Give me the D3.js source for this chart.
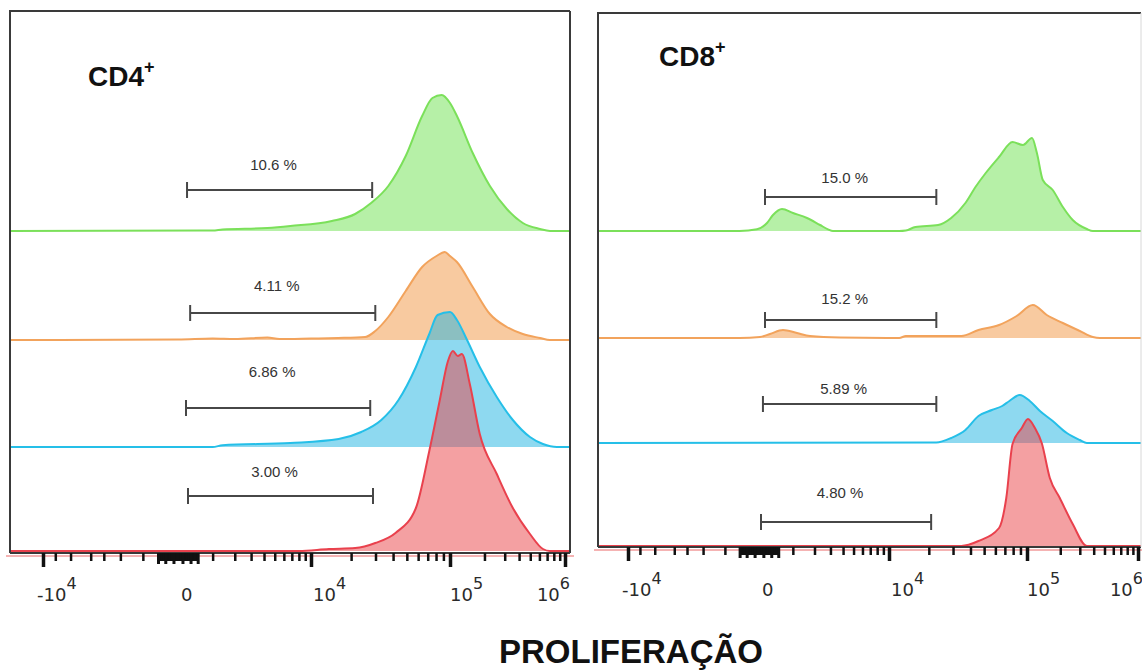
<!DOCTYPE html>
<html>
<head>
<meta charset="utf-8">
<script src="https://cdn.jsdelivr.net/npm/d3@7"></script>
<style>
  body { margin: 0; background: #fff; }
  svg { display: block; }
</style>
</head>
<body>
<svg id="chart" width="1142" height="670"></svg>
<script>
// Proliferation histograms (offset overlay), CD4+ and CD8+
// x = fluorescence intensity, y = relative event count

const cd4Green = [[-30000,0],[1000,0.5],[1400,1.5],[4300,3],[6800,5],[14400,10],[21400,17],[27900,28],[37000,45],[49100,75],[64000,115],[75500,133],[87600,136],[100000,128],[115000,115],[158000,78],[223000,45],[313000,22],[431000,8],[607000,2],[741000,0],[3000000,0]];
const cd4Orange = [[-30000,0],[0,0.5],[1000,1.5],[2000,1],[4300,2.5],[5500,1],[10000,1.5],[16000,2],[25300,3],[29900,9],[37000,23],[49100,49],[64000,73],[80600,84],[92000,88],[100000,84],[115000,78],[158000,53],[223000,26],[313000,13],[431000,6],[607000,2],[741000,0],[3000000,0]];
const cd4Blue = [[-30000,0],[1000,0],[1400,1.7],[6800,4],[16200,8],[23700,15],[33000,27],[43700,47],[57900,80],[71800,113],[82000,132],[100000,135],[115000,127],[141000,107],[182000,80],[256000,50],[353000,27],[497000,10],[644000,3],[852000,0],[3000000,0]];
const cd4Red = [[-30000,0],[8000,0],[13700,2],[21400,3],[29900,8],[41600,18],[57900,43],[71800,100],[84700,150],[96800,190],[106000,200],[117000,195],[127000,197],[149000,167],[182000,117],[256000,77],[353000,43],[497000,17],[644000,2],[741000,0],[3000000,0]];

const cd8Green = [[-30000,0],[-500,0],[-45,1.7],[189,8],[348,16],[617,22],[1006,18],[1613,13],[2317,6],[2830,1.7],[3186,0],[12000,0],[13500,0.5],[15900,4],[23400,6],[29100,13],[36800,28],[43400,44],[51300,58],[63700,74],[79200,89],[93600,86],[111000,93],[123000,78],[139000,51],[171000,41],[211000,24],[259000,11],[347000,2],[393000,0],[3000000,0]];
const cd8Orange = [[-30000,0],[-500,0],[22,1],[266,4],[650,8],[1165,5],[1762,2],[3738,0.5],[12000,0],[13500,2],[34400,2],[45600,8],[63700,13],[84700,22],[113000,33],[151000,23],[211000,15],[300000,7],[393000,1],[455000,0],[3000000,0]];
const cd8Blue = [[-30000,0],[22700,0.5],[29100,5],[36800,13],[45600,27],[56700,33],[67000,37],[75300,42],[89000,48],[106000,42],[131000,32],[171000,22],[229000,10],[300000,3],[347000,0],[3000000,0]];
const cd8Red = [[-30000,0],[34400,0],[45600,5],[63700,18],[71600,48],[79200,102],[92000,118],[102000,127],[118000,118],[136000,103],[161000,68],[198000,48],[259000,22],[347000,0],[3000000,0]];

// gates: [start, end] intensity
const cd4Gates = [[210, 28400], [290, 29900], [185, 27500], [235, 28800]];
const cd4GateLabels = ['10.6 %', '4.11 %', '6.86 %', '3.00 %'];
const cd8Gates = [[140, 22700], [140, 22700], [90, 22700], [45, 20800]];
const cd8GateLabels = ['15.0 %', '15.2 %', '5.89 %', '4.80 %'];

const majorTicks = [-10000, 10000, 100000, 1000000];
const labelTicks = [-10000, 0, 10000, 100000, 1000000];
const labelBase = ['-10', '0', '10', '10', '10'];
const labelExp = ['4', '', '4', '5', '6'];
const minorTicks = [-8000, -6000, -4000, -3000, -2000, -1000,
  1000, 2000, 3000, 4000, 5000, 6000, 7000, 8000, 9000,
  20000, 30000, 40000, 50000, 60000, 70000, 80000, 90000,
  200000, 300000, 400000, 500000, 600000, 700000, 800000, 900000];
const zeroTicksLong = [-500, -300, -100, 100, 300, 500];
const zeroTicksShort = [-450, -400, -350, -250, -200, -150, -50, 0, 50, 150, 200, 250, 350, 400, 450];

const rowStyle = [
  { stroke: '#7be05a', fill: 'rgba(110,225,80,0.5)' },
  { stroke: '#f2a35c', fill: 'rgba(242,150,65,0.5)' },
  { stroke: '#25bfe8', fill: 'rgba(30,180,225,0.5)' },
  { stroke: '#e9414d', fill: 'rgba(233,65,70,0.5)' }
];

const panels = [
  { title: 'CD4', series: [cd4Green, cd4Orange, cd4Blue, cd4Red], gates: cd4Gates, labels: cd4GateLabels,
    box: { x0: 10, x1: 570, y0: 11, y1: 553 }, range: [43, 178, 311, 450, 565],
    baselines: [231, 340, 447, 551], gateY: [190, 313, 408, 496], labelY: [170, 291, 377, 477],
    titleX: 88, titleY: 86, tickLabelY: 601, rightEdge: true },
  { title: 'CD8', series: [cd8Green, cd8Orange, cd8Blue, cd8Red], gates: cd8Gates, labels: cd8GateLabels,
    box: { x0: 598, x1: 1141, y0: 13, y1: 547 }, range: [628, 759, 889, 1027, 1138],
    baselines: [231, 338, 443, 546], gateY: [197, 320, 404, 522], labelY: [183, 304, 394, 498],
    titleX: 659, titleY: 66, tickLabelY: 596, rightEdge: false }
];

const svg = d3.select('#chart');
const y = d3.scaleLinear().domain([0, 200]).range([0, 200]);
const labelShift = [[-6, 'start'], [3, 'start'], [2, 'start'], [0, 'start'], [5, 'end']];

panels.forEach((p, pi) => {
  const x = d3.scaleSymlog().constant(1350).domain(labelTicks).range(p.range);
  const b = p.box;
  const g = svg.append('g');

  const clipId = 'clip' + pi;
  svg.append('clipPath').attr('id', clipId)
    .append('rect')
    .attr('x', b.x0).attr('y', b.y0)
    .attr('width', b.x1 - b.x0).attr('height', b.y1 - b.y0);

  // pink line under the axis (red baseline bleed)
  g.append('line')
    .attr('x1', b.x0 - 4).attr('x2', Math.min(b.x1 + 4, 1142))
    .attr('y1', b.y1 + 3).attr('y2', b.y1 + 3)
    .attr('stroke', '#f5b3b3').attr('stroke-width', 2);

  const hist = g.append('g').attr('clip-path', `url(#${clipId})`);
  p.series.forEach((s, i) => {
    const base = p.baselines[i];
    const area = d3.area()
      .x(d => x(d[0])).y0(base).y1(d => base - y(d[1]))
      .curve(d3.curveMonotoneX);
    const line = d3.line()
      .x(d => x(d[0])).y(d => base - y(d[1]))
      .curve(d3.curveMonotoneX);
    hist.append('path').datum(s).attr('d', area).attr('fill', rowStyle[i].fill);
    hist.append('path').datum(s).attr('d', line)
      .attr('fill', 'none').attr('stroke', rowStyle[i].stroke).attr('stroke-width', 2);
  });

  // box
  const bx = g.append('g').attr('fill', 'none').attr('stroke', '#3a3a3a').attr('stroke-width', 2);
  bx.append('path').attr('d', `M${b.x0},${b.y1}V${b.y0}H${b.x1}`);
  bx.append('line').attr('x1', b.x0).attr('x2', b.x1).attr('y1', b.y1).attr('y2', b.y1);
  g.append('line').attr('x1', b.x1).attr('x2', b.x1).attr('y1', b.y0).attr('y2', b.y1)
    .attr('stroke', p.rightEdge ? '#3a3a3a' : '#d8d8d8').attr('stroke-width', p.rightEdge ? 2 : 1);

  // gates
  p.gates.forEach((gt, i) => {
    const gy = p.gateY[i];
    const xa = x(gt[0]), xb = x(gt[1]);
    const gg = g.append('g').attr('stroke', '#474747').attr('stroke-width', 2);
    gg.append('line').attr('x1', xa).attr('x2', xb).attr('y1', gy).attr('y2', gy);
    gg.append('line').attr('x1', xa).attr('x2', xa).attr('y1', gy - 8).attr('y2', gy + 8);
    gg.append('line').attr('x1', xb).attr('x2', xb).attr('y1', gy - 8).attr('y2', gy + 8);
    g.append('text')
      .attr('x', (xa + xb) / 2 - 6).attr('y', p.labelY[i])
      .attr('text-anchor', 'middle')
      .attr('font-family', 'Liberation Sans, Arial, sans-serif')
      .attr('font-size', 15).attr('fill', '#333')
      .text(p.labels[i]);
  });

  // axis ticks
  const axG = g.append('g').attr('transform', `translate(0,${b.y1})`);
  const addTicks = (vals, size, w) => {
    const a = axG.append('g').call(d3.axisBottom(x).tickValues(vals).tickSize(size).tickFormat(''));
    a.select('.domain').remove();
    a.selectAll('line').attr('stroke', '#111').attr('stroke-width', w);
  };
  addTicks(minorTicks, 8, 2.5);
  addTicks(zeroTicksShort, 8, 3);
  addTicks(zeroTicksLong, 11, 3);
  addTicks(majorTicks, 14, 3.5);

  // tick labels
  labelTicks.forEach((v, i) => {
    const t = g.append('text')
      .attr('x', x(v) + labelShift[i][0]).attr('y', p.tickLabelY)
      .attr('text-anchor', labelShift[i][1])
      .attr('font-family', 'DejaVu Sans, sans-serif')
      .attr('font-size', 18).attr('fill', '#2a2a2a');
    t.append('tspan').text(labelBase[i]);
    if (labelExp[i]) t.append('tspan').attr('dy', -12).attr('font-size', 16).text(labelExp[i]);
  });

  // title
  const tt = g.append('text')
    .attr('x', p.titleX).attr('y', p.titleY)
    .attr('font-family', 'Liberation Sans, Arial, sans-serif')
    .attr('font-weight', 'bold').attr('font-size', 28).attr('fill', '#111');
  tt.append('tspan').text(p.title);
  tt.append('tspan').attr('dy', -13).attr('font-size', 18).text('+');
});

svg.append('text')
  .attr('x', 631).attr('y', 663)
  .attr('text-anchor', 'middle')
  .attr('font-family', 'Liberation Sans, Arial, sans-serif')
  .attr('font-weight', 'bold').attr('font-size', 33).attr('fill', '#111')
  .text('PROLIFERAÇÃO');
</script>
</body>
</html>
